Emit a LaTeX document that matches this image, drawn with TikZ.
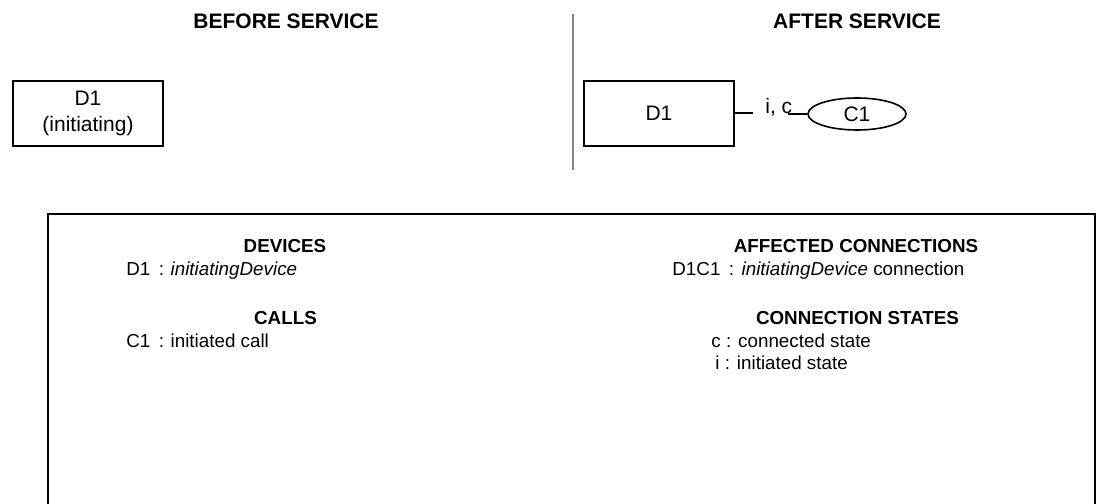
\documentclass[tikz,border=0pt]{standalone}
\usepackage{fontspec}
\setmainfont{Liberation Sans}
\usetikzlibrary{shapes.geometric}
\begin{document}
\begin{tikzpicture}[x=0.5bp,y=-0.5bp,
  bigtxt/.style={font=\fontsize{10.5bp}{13bp}\selectfont},
  bighead/.style={font=\fontsize{10.5bp}{13bp}\selectfont\bfseries, anchor=base, inner sep=0},
  smalltxt/.style={font=\fontsize{9.4bp}{11bp}\selectfont, anchor=base west, inner sep=0},
  smallhead/.style={font=\fontsize{9.4bp}{11bp}\selectfont\bfseries, anchor=base, inner sep=0},
  devbox/.style={draw, line width=1bp, rectangle, minimum width=75bp, minimum height=32.5bp,
    inner sep=0, align=center, font=\fontsize{10.5bp}{13bp}\selectfont},
  callell/.style={draw, ellipse, line width=0.8bp, minimum width=49bp, minimum height=16bp,
    inner sep=0, font=\fontsize{10.5bp}{13bp}\selectfont},
  conn/.style={line width=1bp},
  frame/.style={line width=1bp}
]
\useasboundingbox (0,0) rectangle (1098,504);
\clip (0,0) rectangle (1098,504);

% headings
\node[bighead] (before) at (286,29) {BEFORE SERVICE};
\node[bighead] (after) at (857,29) {AFTER SERVICE};
\draw[black!48, line width=1bp] (573,14) -- (573,170);

% before
\node[devbox] (d1a) at (88,113.5) {D1\\(initiating)};

% after
\node[devbox] (d1b) at (659,113.5) {D1};
\node[callell] (c1) at (857,114) {C1};
\coordinate (k1) at (753,113.5);
\coordinate (k2) at (788,114);
\node[bigtxt, anchor=base west, inner sep=0] (lab) at (765,114) {i, c};
\draw[conn] (d1b.east) -- (k1);
\draw[conn] (k2) -- (c1.west);

% legend frame
\draw[frame] (47.5,530) -- (47.5,214) -- (1095,214) -- (1095,530);

\node[smallhead] (hdev) at (285,253) {DEVICES};
\node[smalltxt] (ldev) at (126,276) {D1\hspace{0.45em}:\hspace{0.35em}\textit{initiatingDevice}};
\node[smallhead] (hcall) at (285.5,325) {CALLS};
\node[smalltxt] (lcall) at (126,348) {C1\hspace{0.45em}:\hspace{0.35em}initiated call};

\node[smallhead] (hconn) at (856,253) {AFFECTED CONNECTIONS};
\node[smalltxt] (lconn) at (672,276) {D1C1\hspace{0.45em}:\hspace{0.4em}\textit{initiatingDevice} connection};
\node[smallhead] (hstate) at (857.5,325) {CONNECTION STATES};
\node[smalltxt] (lc) at (711,348) {c : connected state};
\node[smalltxt] (li) at (715,370) {i : initiated state};
\end{tikzpicture}
\end{document}
